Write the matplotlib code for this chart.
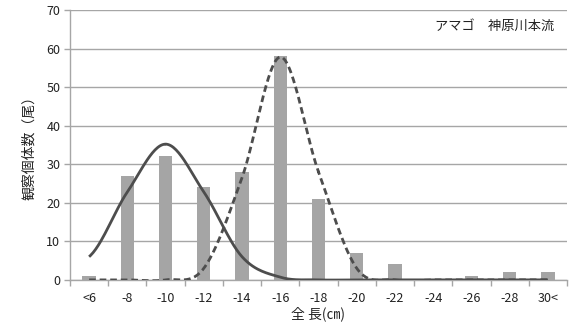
"""Length-frequency histogram of amago with two fitted cohort curves."""

import matplotlib

matplotlib.use("Agg")
import matplotlib.pyplot as plt
import numpy as np

plt.rcParams["font.family"] = ["Noto Sans CJK JP", "DejaVu Sans"]

# length classes (cm) and observed counts
categories = ["<6", "-8", "-10", "-12", "-14", "-16", "-18", "-20", "-22", "-24", "-26", "-28", "30<"]
counts = [1, 27, 32, 24, 28, 58, 21, 7, 4, 0, 1, 2, 2]

# fitted curves per length class (age 0+ solid, age 1+ dashed)
fit_young = [6.0, 22.8, 35.2, 22.8, 6.0, 0.7, 0, 0, 0, 0, 0, 0, 0]
fit_older = [0, 0, 0, 3.0, 26.5, 57.8, 28.0, 3.0, 0, 0, 0, 0, 0]

title_text = "アマゴ\u3000神原川本流"
xlabel_text = "全 長(㎝)"
ylabel_text = "観察個体数（尾）"

GRID = "#a6a6a6"
BAR = "#a5a5a5"
LINE = "#4d4d4d"


def smooth(xs, ys, steps=30):
    """Catmull-Rom spline through the points, like a spreadsheet smoothed line."""
    xs = np.asarray(xs, float)
    ys = np.asarray(ys, float)
    px = np.concatenate([[2 * xs[0] - xs[1]], xs, [2 * xs[-1] - xs[-2]]])
    py = np.concatenate([[ys[0]], ys, [ys[-1]]])
    out_x, out_y = [], []
    t = np.linspace(0, 1, steps)
    for i in range(1, len(px) - 2):
        for p, out in ((px, out_x), (py, out_y)):
            p0, p1, p2, p3 = p[i - 1], p[i], p[i + 1], p[i + 2]
            seg = 0.5 * (2 * p1 + (-p0 + p2) * t
                         + (2 * p0 - 5 * p1 + 4 * p2 - p3) * t ** 2
                         + (-p0 + 3 * p1 - 3 * p2 + p3) * t ** 3)
            out.extend(seg)
    return np.array(out_x), np.array(out_y)


fig = plt.figure(figsize=(5.69, 3.32), dpi=100)
ax = fig.add_axes([0.123, 0.157, 0.8735, 0.813])

x = np.arange(len(categories))
ax.bar(x, counts, width=0.35, color=BAR, zorder=2)

ox, oy = smooth(x, fit_older)
ax.plot(ox, oy, color=LINE, lw=2.0, ls=(0, (2.4, 1.4)), zorder=3)
yx, yy = smooth(x, fit_young)
ax.plot(yx, yy, color=LINE, lw=2.0, zorder=4, solid_capstyle="butt")

ax.set_xlim(-0.5, len(categories) - 0.5)
ax.set_ylim(0, 70)
ax.set_yticks(range(0, 71, 10))
ax.yaxis.grid(True, color=GRID, lw=1.0)
ax.set_axisbelow(True)

ax.set_xticks(x)
ax.set_xticklabels(categories, fontsize=9, color="#222222")
ax.set_xticks(np.arange(-0.5, len(categories), 1.0), minor=True)
ax.tick_params(axis="x", which="major", length=0, pad=9)
ax.tick_params(axis="x", which="minor", length=4, color=GRID, width=1)
ax.tick_params(axis="y", length=4, color=GRID, width=1, labelsize=9,
               labelcolor="#222222", pad=3)

for side in ("top", "right"):
    ax.spines[side].set_visible(False)
for side in ("left", "bottom"):
    ax.spines[side].set_color(GRID)
    ax.spines[side].set_linewidth(1.0)

ax.set_xlabel(xlabel_text, fontsize=10, labelpad=1, color="#222222")
ax.set_ylabel(ylabel_text, fontsize=10, labelpad=7, color="#222222")
ax.text(0.975, 0.94, title_text, transform=ax.transAxes, ha="right", va="center",
        fontsize=9.5, color="#222222")

fig.savefig("out.png", dpi=100)
